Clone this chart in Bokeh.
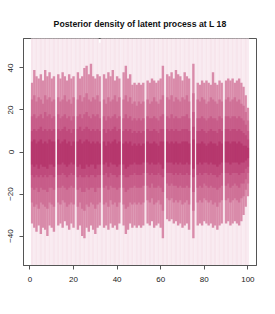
import numpy as np
from bokeh.plotting import figure
from bokeh.models import ColumnDataSource, Range1d, FixedTicker
from bokeh.embed import file_html
from bokeh.resources import INLINE

# ---------------- data ----------------
locations = list(range(1, 101))
x_ticks = [0, 20, 40, 60, 80, 100]
y_ticks = [-40, -20, 0, 20, 40]
title_text = "Posterior density of latent process at L 18"

# outermost (lightest) envelope
bg_hi = [56] * 31 + [52] + [56] * 68
bg_lo = [-56] * 100

# band 1 (outer)
hi1 = [33, 39, 36, 35, 37, 34, 39, 36, 38, 35,
       36, 0, 37, 35, 38, 36, 34, 37, 35, 36,
       0, 38, 35, 36, 40, 41, 37, 42, 36, 35,
       37, 36, 0, 37, 35, 38, 36, 39, 34, 36,
       35, 0, 38, 41, 35, 37, 32, 33, 32, 33,
       32, 33, 0, 34, 33, 35, 34, 33, 34, 35,
       41, 0, 37, 36, 38, 35, 39, 37, 36, 34,
       38, 36, 35, 0, 42, 0, 33, 32, 34, 33,
       34, 33, 32, 38, 33, 32, 34, 33, 0, 34,
       35, 34, 35, 33, 34, 35, 33, 31, 27, 21]
lo1 = [-34, -36, -38, -35, -39, -36, -37, -40, -35, -36,
       -38, 0, -35, -34, -36, -33, -35, -37, -34, -36,
       0, -37, -35, -40, -41, -36, -38, -35, -37, -39,
       -36, -35, 0, -36, -35, -37, -34, -36, -35, -37,
       -34, 0, -35, -39, -37, -34, -36, -35, -36, -35,
       -36, -35, 0, -34, -35, -33, -36, -35, -34, -36,
       -41, 0, -32, -33, -32, -34, -33, -35, -34, -36,
       -35, -34, -37, 0, -41, 0, -35, -34, -35, -33,
       -34, -35, -34, -36, -35, -37, -35, -34, 0, -34,
       -33, -35, -34, -33, -34, -35, -33, -30, -26, -21]
# band 2
hi2 = [25, 27, 24, 26, 25, 23, 27, 25, 26, 24,
       25, 0, 26, 24, 25, 27, 24, 25, 23, 26,
       0, 25, 27, 24, 26, 28, 25, 24, 26, 25,
       27, 24, 0, 25, 23, 26, 24, 25, 27, 24,
       26, 0, 25, 27, 24, 26, 23, 24, 22, 24,
       23, 24, 0, 25, 23, 24, 26, 24, 23, 25,
       27, 0, 26, 25, 27, 24, 26, 25, 24, 26,
       25, 27, 24, 0, 28, 0, 25, 24, 26, 25,
       23, 24, 26, 25, 24, 23, 25, 24, 0, 25,
       26, 24, 25, 26, 24, 25, 23, 22, 19, 15]
lo2 = [-24, -26, -25, -27, -24, -25, -26, -27, -24, -25,
       -26, 0, -24, -25, -23, -24, -26, -25, -24, -25,
       0, -26, -24, -27, -28, -25, -26, -24, -25, -27,
       -25, -24, 0, -25, -24, -26, -23, -25, -24, -26,
       -24, 0, -25, -27, -26, -24, -25, -24, -25, -24,
       -25, -24, 0, -23, -24, -22, -25, -24, -23, -25,
       -28, 0, -22, -23, -22, -24, -23, -24, -23, -25,
       -24, -23, -25, 0, -28, 0, -24, -23, -24, -22,
       -23, -24, -23, -25, -24, -26, -24, -23, 0, -23,
       -22, -24, -23, -22, -23, -24, -22, -21, -18, -15]
# band 3
hi3 = [17, 18, 16, 17, 18, 16, 19, 17, 18, 16,
       17, 0, 18, 16, 17, 18, 16, 17, 15, 17,
       0, 17, 18, 16, 18, 19, 17, 16, 18, 17,
       18, 16, 0, 17, 15, 17, 16, 17, 18, 16,
       17, 0, 16, 18, 16, 17, 15, 16, 15, 16,
       15, 16, 0, 17, 16, 16, 17, 16, 15, 17,
       18, 0, 17, 16, 18, 16, 17, 16, 16, 17,
       17, 18, 16, 0, 19, 0, 16, 16, 17, 16,
       15, 16, 17, 16, 16, 15, 17, 16, 0, 17,
       17, 16, 17, 17, 16, 17, 16, 15, 13, 10]
lo3 = [-17, -18, -17, -19, -17, -18, -18, -19, -17, -17,
       -18, 0, -17, -17, -16, -17, -18, -17, -16, -17,
       0, -18, -17, -19, -19, -17, -18, -17, -17, -19,
       -17, -17, 0, -17, -16, -18, -16, -17, -17, -18,
       -17, 0, -17, -19, -18, -17, -17, -16, -17, -17,
       -17, -16, 0, -16, -17, -15, -17, -17, -16, -17,
       -19, 0, -15, -16, -15, -16, -16, -17, -16, -17,
       -17, -16, -17, 0, -19, 0, -17, -16, -17, -15,
       -16, -17, -16, -17, -17, -18, -17, -16, 0, -16,
       -15, -17, -16, -15, -16, -17, -15, -15, -13, -10]
# band 4
hi4 = [10, 11, 10, 11, 12, 10, 11, 10, 11, 10,
       11, 0, 11, 10, 11, 12, 10, 11, 9, 11,
       0, 11, 12, 10, 11, 12, 11, 10, 11, 10,
       11, 10, 0, 11, 9, 11, 10, 11, 12, 10,
       11, 0, 10, 11, 10, 11, 9, 10, 9, 10,
       9, 10, 0, 11, 10, 10, 11, 10, 9, 11,
       11, 0, 11, 10, 11, 10, 11, 10, 10, 11,
       11, 11, 10, 0, 12, 0, 10, 10, 11, 10,
       9, 10, 11, 10, 10, 9, 11, 10, 0, 11,
       11, 10, 11, 11, 10, 11, 10, 9, 8, 6]
lo4 = [-11, -12, -11, -12, -11, -12, -11, -12, -11, -11,
       -12, 0, -11, -11, -10, -11, -12, -11, -10, -11,
       0, -12, -11, -12, -12, -11, -12, -11, -11, -12,
       -11, -11, 0, -11, -10, -12, -10, -11, -11, -12,
       -11, 0, -11, -12, -12, -11, -11, -10, -11, -11,
       -11, -10, 0, -10, -11, -10, -11, -11, -10, -11,
       -12, 0, -10, -10, -10, -11, -10, -11, -10, -11,
       -11, -10, -11, 0, -12, 0, -11, -10, -11, -10,
       -10, -11, -10, -11, -11, -12, -11, -10, 0, -10,
       -10, -11, -10, -10, -10, -11, -10, -10, -8, -7]
# band 5 (inner)
hi5 = [5, 6, 4, 5, 6, 4, 5, 4, 6, 5,
       5, 0, 6, 4, 5, 6, 4, 5, 3, 5,
       0, 5, 6, 4, 5, 6, 5, 4, 5, 4,
       5, 4, 0, 5, 3, 5, 4, 5, 6, 4,
       5, 0, 4, 5, 4, 5, 3, 4, 3, 4,
       3, 4, 0, 5, 4, 4, 5, 4, 3, 5,
       5, 0, 5, 4, 5, 4, 5, 4, 4, 5,
       5, 5, 4, 0, 6, 0, 4, 4, 5, 4,
       3, 4, 5, 4, 4, 3, 5, 4, 0, 5,
       5, 4, 5, 5, 4, 5, 4, 3, 3, 2]
lo5 = [-6, -7, -6, -8, -6, -7, -7, -8, -6, -6,
       -7, 0, -6, -6, -5, -6, -7, -6, -5, -6,
       0, -7, -6, -8, -8, -6, -7, -6, -6, -8,
       -6, -6, 0, -6, -5, -7, -5, -6, -6, -7,
       -6, 0, -6, -8, -7, -6, -6, -5, -6, -6,
       -6, -5, 0, -5, -6, -5, -6, -6, -5, -6,
       -8, 0, -5, -5, -5, -6, -5, -6, -5, -6,
       -6, -5, -6, 0, -8, 0, -6, -5, -6, -5,
       -5, -6, -5, -6, -6, -7, -6, -5, 0, -5,
       -5, -6, -5, -5, -5, -6, -5, -5, -4, -3]

# ---------------- figure ----------------
p = figure(frame_width=233, frame_height=227,
           x_range=Range1d(-2.96, 103.96), y_range=Range1d(-54, 54),
           output_backend="svg", toolbar_location=None,
           min_border_left=23, min_border_right=11,
           min_border_top=38, min_border_bottom=45,
           background_fill_color="white", border_fill_color="white")

xs = np.array(locations, dtype=float)
half = 0.55  # slight overlap so no seams between adjacent columns

# light envelope stripes
bg_colors = ["#F7E5EC" if i % 2 == 0 else "#F9EBF1" for i in range(len(locations))]
p.quad(left=xs - half, right=xs + half, top=bg_hi, bottom=bg_lo,
       fill_color=bg_colors, line_color=None)

bands = [(hi1, lo1, "#D98BAA"), (hi2, lo2, "#CF7197"),
         (hi3, lo3, "#C75C89"), (hi4, lo4, "#BF4A7C"), (hi5, lo5, "#B6376D")]
for hi, lo, col in bands:
    hi = np.array(hi, dtype=float)
    lo = np.array(lo, dtype=float)
    keep = hi != lo
    src = ColumnDataSource(dict(left=xs[keep] - half, right=xs[keep] + half,
                                top=hi[keep], bottom=lo[keep]))
    p.quad(left="left", right="right", top="top", bottom="bottom", source=src,
           fill_color=col, line_color=None)

p.title.text = title_text
p.title.align = "center"
p.title.text_font = "Liberation Sans"
p.title.text_font_size = "8.7px"
p.title.text_font_style = "bold"
p.title.text_color = "#111111"
p.title.standoff = 19

p.xgrid.visible = False
p.ygrid.visible = False
p.outline_line_color = "#555555"
p.outline_line_width = 1

p.xaxis.ticker = FixedTicker(ticks=x_ticks)
p.yaxis.ticker = FixedTicker(ticks=y_ticks)
for ax in (p.xaxis, p.yaxis):
    ax.axis_line_color = "#555555"
    ax.major_tick_line_color = "#555555"
    ax.major_tick_out = 4
    ax.major_tick_in = 0
    ax.minor_tick_out = 0
    ax.minor_tick_in = 0
    ax.major_label_text_font = "Liberation Sans"
    ax.major_label_text_font_size = "8px"
    ax.major_label_text_color = "#222222"
p.xaxis.major_label_standoff = 7
p.yaxis.major_label_standoff = 6
p.yaxis.major_label_orientation = "vertical"

open("out.html", "w").write(file_html(p, INLINE))
